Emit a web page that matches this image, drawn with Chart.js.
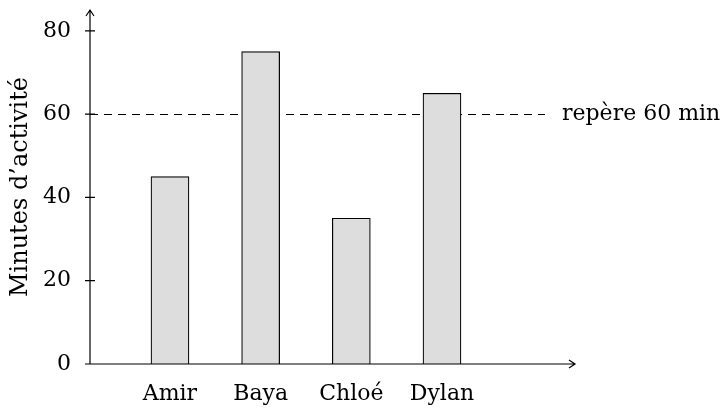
<!DOCTYPE html>
<html lang="fr">
<head>
    <meta charset="UTF-8">
    <title>Minutes d’activité</title>
    <script src="https://cdn.jsdelivr.net/npm/chart.js"></script>
    <style>
        html, body { margin: 0; padding: 0; background: #fff; }
        .contenedor { width: 724px; height: 409px; }
    </style>
</head>
<body>
    <div class="contenedor">
        <canvas id="grafico"></canvas>
    </div>

    <script>
        // données
        const categories = ["Amir", "Baya", "Chloé", "Dylan"];
        const minutes = [45, 75, 35, 65];
        const yTicks = [0, 20, 40, 60, 80];
        const repere = 60;
        const repereLabel = "repère 60 min";

        // étendue des axes (en unités de données)
        const xMin = -0.882, xMax = 4.467, repereEnd = 4.136;
        const yMin = 0, yMax = 85;

        const police = "'DejaVu Serif', serif";

        // traits, flèches et repère
        const decor = {
            id: 'decor',
            beforeDatasetsDraw(chart) {
                const { ctx, scales: { x, y } } = chart;
                const py = Math.round(y.getPixelForValue(repere)) + 0.5;
                ctx.save();
                ctx.strokeStyle = '#000';
                ctx.lineWidth = 1.1;
                ctx.setLineDash([8, 6]);
                ctx.beginPath();
                ctx.moveTo(x.getPixelForValue(xMin), py);
                ctx.lineTo(x.getPixelForValue(repereEnd), py);
                ctx.stroke();
                ctx.restore();
            },
            afterDraw(chart) {
                const { ctx, chartArea: a, scales: { x, y } } = chart;
                ctx.save();
                ctx.strokeStyle = '#000';
                ctx.lineWidth = 1.2;
                ctx.beginPath();
                // axes
                ctx.moveTo(a.left, a.bottom); ctx.lineTo(a.left, a.top);
                ctx.moveTo(a.left, a.bottom); ctx.lineTo(a.right, a.bottom);
                // flèches
                ctx.moveTo(a.left - 4, a.top + 6); ctx.lineTo(a.left, a.top); ctx.lineTo(a.left + 4, a.top + 6);
                ctx.moveTo(a.right - 6, a.bottom - 4); ctx.lineTo(a.right, a.bottom); ctx.lineTo(a.right - 6, a.bottom + 4);
                // graduations
                yTicks.forEach(v => {
                    const p = y.getPixelForValue(v);
                    ctx.moveTo(a.left - 5, p); ctx.lineTo(a.left + 5, p);
                });
                ctx.stroke();
                // étiquette du repère
                ctx.fillStyle = '#000';
                ctx.font = "22px " + police;
                ctx.textBaseline = 'middle';
                ctx.fillText(repereLabel, x.getPixelForValue(repereEnd) + 17, y.getPixelForValue(repere));
                ctx.restore();
            }
        };

        const ctx = document.getElementById('grafico').getContext('2d');
        const chart = new Chart(ctx, {
            type: 'bar',
            data: {
                datasets: [{
                    data: minutes.map((v, i) => ({ x: i, y: v })),
                    backgroundColor: '#dddddd',
                    borderColor: '#000',
                    borderWidth: 1.2,
                    barThickness: 38
                }]
            },
            options: {
                responsive: true,
                maintainAspectRatio: false,
                animation: false,
                layout: { padding: { top: 10, right: 149, bottom: 0, left: 0 } },
                plugins: { legend: { display: false }, tooltip: { enabled: false } },
                scales: {
                    x: {
                        type: 'linear',
                        offset: false,
                        min: xMin,
                        max: xMax,
                        grid: { display: false, drawTicks: false, offset: false },
                        border: { display: false },
                        afterBuildTicks: s => { s.ticks = categories.map((c, i) => ({ value: i })); },
                        afterFit: s => { s.height = 45; s.paddingLeft = 0; s.paddingRight = 0; },
                        ticks: {
                            color: '#000',
                            padding: 17,
                            maxRotation: 0,
                            autoSkip: false,
                            font: { family: police, size: 22 },
                            callback: v => categories[v]
                        }
                    },
                    y: {
                        min: yMin,
                        max: yMax,
                        grid: { display: false, drawTicks: false },
                        border: { display: false },
                        afterBuildTicks: s => { s.ticks = yTicks.map(v => ({ value: v })); },
                        afterFit: s => { s.width = 90; s.paddingTop = 0; s.paddingBottom = 0; },
                        ticks: {
                            color: '#000',
                            padding: 19,
                            font: { family: police, size: 22 }
                        },
                        title: {
                            display: true,
                            text: "Minutes d’activité",
                            color: '#000',
                            padding: { top: 6, bottom: 0 },
                            font: { family: police, size: 24 }
                        }
                    }
                }
            },
            plugins: [decor]
        });
    </script>
</body>
</html>
